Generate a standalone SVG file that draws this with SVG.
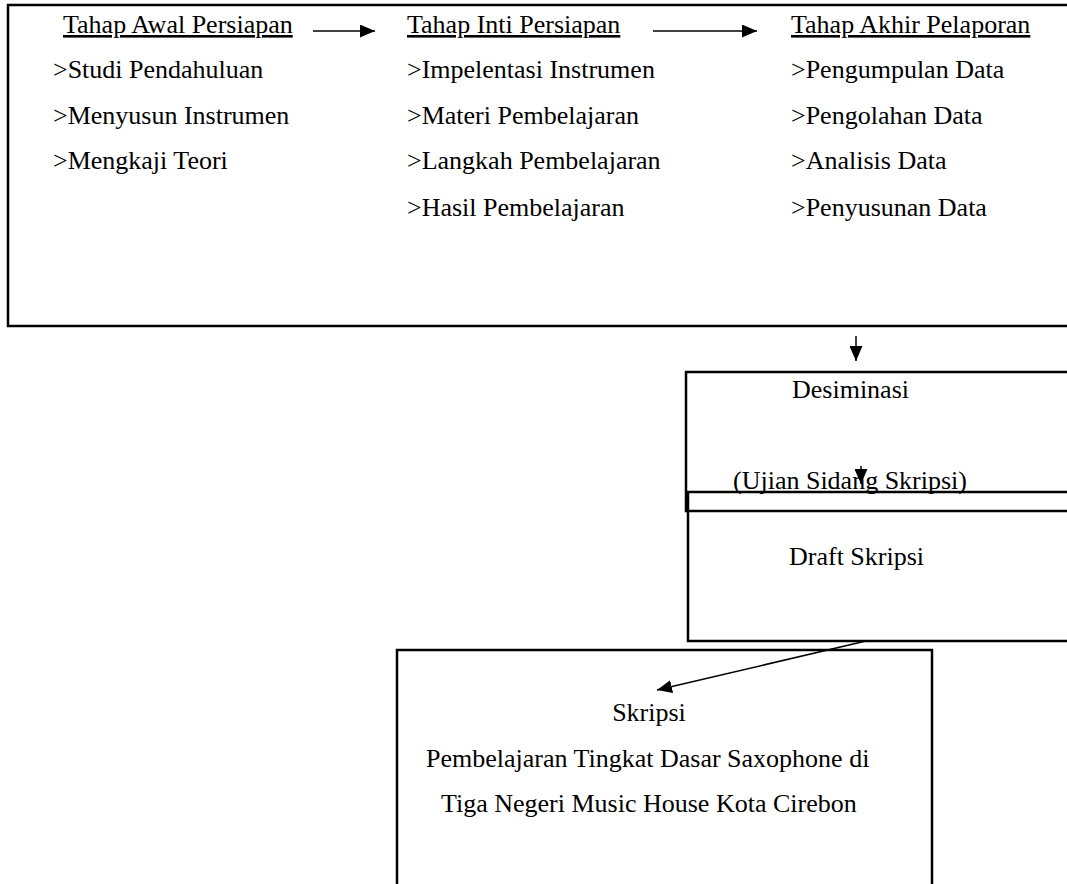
<svg xmlns="http://www.w3.org/2000/svg" width="1067" height="884" viewBox="0 0 1067 884">
<style>
text{font-family:"Liberation Serif","Times New Roman",serif;font-size:26px;fill:#000}
.box{fill:none;stroke:#000;stroke-width:2.5}
.ln{fill:none;stroke:#000;stroke-width:1.5}
.u{text-decoration:underline}
</style>
<defs>
<marker id="ahL" viewBox="0 0 10 10" refX="10" refY="5" markerWidth="15" markerHeight="13" markerUnits="userSpaceOnUse" orient="auto" preserveAspectRatio="none"><path d="M0,0 L10,5 L0,10 Z" fill="#000"/></marker>
</defs>
<g id="tahap-box">
<rect class="box" x="8" y="5" width="1070" height="321"/>
<text x="63" y="33" class="u">Tahap Awal Persiapan</text>
<text x="53" y="78">&gt;Studi Pendahuluan</text>
<text x="53" y="124">&gt;Menyusun Instrumen</text>
<text x="53" y="169">&gt;Mengkaji Teori</text>
<text x="407" y="33" class="u">Tahap Inti Persiapan</text>
<text x="407" y="78">&gt;Impelentasi Instrumen</text>
<text x="407" y="124">&gt;Materi Pembelajaran</text>
<text x="407" y="169">&gt;Langkah Pembelajaran</text>
<text x="407" y="216">&gt;Hasil Pembelajaran</text>
<text x="791" y="33" class="u">Tahap Akhir Pelaporan</text>
<text x="791" y="78">&gt;Pengumpulan Data</text>
<text x="791" y="124">&gt;Pengolahan Data</text>
<text x="791" y="169">&gt;Analisis Data</text>
<text x="791" y="216">&gt;Penyusunan Data</text>
</g>
<g id="desiminasi">
<rect class="box" x="686" y="372" width="400" height="139"/>
<text x="792" y="398">Desiminasi</text>
<text x="733" y="489">(Ujian Sidang Skripsi)</text>
</g>
<g id="draft">
<rect class="box" x="688" y="492" width="400" height="149"/>
<text x="789" y="565">Draft Skripsi</text>
</g>
<g id="skripsi">
<rect class="box" x="397" y="650" width="535" height="260"/>
<text x="649" y="721" text-anchor="middle">Skripsi</text>
<text x="426" y="767">Pembelajaran Tingkat Dasar Saxophone di</text>
<text x="441" y="812">Tiga Negeri Music House Kota Cirebon</text>
</g>
<g id="connectors">
<line class="ln" x1="313" y1="31" x2="375" y2="31" marker-end="url(#ahL)"/>
<line class="ln" x1="653" y1="31" x2="757" y2="31" marker-end="url(#ahL)"/>
<line class="ln" x1="856" y1="336" x2="856" y2="361" marker-end="url(#ahL)"/>
<line class="ln" x1="861" y1="466" x2="861" y2="484" marker-end="url(#ahL)"/>
<line class="ln" x1="866" y1="641" x2="657" y2="690" marker-end="url(#ahL)"/>
</g>
</svg>
